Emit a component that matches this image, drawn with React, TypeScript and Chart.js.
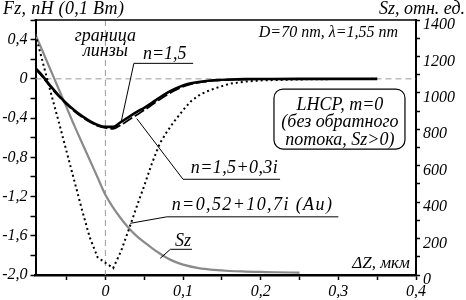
import React, { useEffect, useRef } from 'react';
import { Chart, registerables } from 'chart.js';
Chart.register(...registerables);

const FONT = '"Liberation Serif", "Times New Roman", serif';

// x positions (ΔZ, мкм) for the force curves
const xFz = [-0.09, -0.08, -0.07, -0.06, -0.05, -0.04, -0.03, -0.02, -0.01, 0, 0.01, 0.02, 0.03, 0.04, 0.05, 0.06, 0.07, 0.08, 0.09, 0.1, 0.11, 0.12, 0.13, 0.14, 0.16, 0.18, 0.2, 0.25, 0.3, 0.35];
// Fz, n = 1,5
const fzN15 = [0.11, 0.02, -0.08, -0.17, -0.25, -0.32, -0.38, -0.43, -0.47, -0.49, -0.49, -0.44, -0.39, -0.34, -0.295, -0.245, -0.19, -0.14, -0.1, -0.068, -0.046, -0.032, -0.022, -0.015, -0.007, -0.003, -0.002, 0, 0, 0];
// Fz, n = 1,5 + 0,3i
const fzN15i = [0.1, 0.01, -0.09, -0.18, -0.26, -0.33, -0.39, -0.44, -0.48, -0.5, -0.51, -0.47, -0.42, -0.37, -0.32, -0.265, -0.21, -0.16, -0.115, -0.08, -0.055, -0.038, -0.027, -0.019, -0.01, -0.005, -0.003, -0.001, 0, 0];
// Fz, n = 0,52 + 10,7i (Au)
const fzAu = [0.45, 0.15, -0.15, -0.44, -0.74, -1.04, -1.34, -1.62, -1.82, -1.875, -1.93, -1.76, -1.54, -1.31, -1.09, -0.86, -0.66, -0.53, -0.42, -0.32, -0.23, -0.17, -0.13, -0.1, -0.05, -0.028, -0.016, -0.006, -0.002, 0];
// Sz (right axis)
const xSz = [-0.09, -0.08, -0.07, -0.06, -0.05, -0.04, -0.03, -0.02, -0.01, 0, 0.01, 0.02, 0.03, 0.04, 0.05, 0.06, 0.07, 0.08, 0.09, 0.1, 0.12, 0.14, 0.16, 0.18, 0.2, 0.22, 0.25];
const sz = [1320, 1220, 1120, 1020, 920, 820, 725, 630, 535, 440, 370, 310, 258, 215, 180, 148, 118, 92, 72, 57, 38, 28, 22, 19, 17, 15, 13];

const xTicks = [-0.05, 0, 0.05, 0.1, 0.15, 0.2, 0.25, 0.3, 0.35, 0.4];
const yLeftTicks = [-2.0, -1.8, -1.6, -1.4, -1.2, -1.0, -0.8, -0.6, -0.4, -0.2, 0, 0.2, 0.4, 0.6];
const yRightTicks = [0, 100, 200, 300, 400, 500, 600, 700, 800, 900, 1000, 1100, 1200, 1300, 1400];

const comma = (v: number) => (v === 0 ? '0' : v.toFixed(1).replace('.', ','));

function txt(ctx: CanvasRenderingContext2D, s: string, px: number, py: number, size: number, align: CanvasTextAlign = 'left', spacing = 0) {
  ctx.font = `italic ${size}px ${FONT}`;
  ctx.textAlign = align;
  ctx.textBaseline = 'middle';
  ctx.fillStyle = '#000';
  (ctx as any).letterSpacing = `${spacing}px`;
  ctx.fillText(s, px, py);
  (ctx as any).letterSpacing = '0px';
}

const annot = {
  id: 'annot',
  beforeDatasetsDraw(chart: any) {
    const { ctx, chartArea: a, scales } = chart;
    const x = scales.x, y = scales.y;
    ctx.save();
    ctx.strokeStyle = '#9a9a9a';
    ctx.lineWidth = 1;
    ctx.setLineDash([6, 4]);
    ctx.beginPath();
    const y0 = y.getPixelForValue(0);
    const x0 = x.getPixelForValue(0);
    ctx.moveTo(a.left, y0); ctx.lineTo(a.right, y0);
    ctx.moveTo(x0, a.top); ctx.lineTo(x0, a.bottom);
    ctx.stroke();
    ctx.restore();
  },
  afterDraw(chart: any) {
    const { ctx, chartArea: a, scales } = chart;
    const x = scales.x, y = scales.y;
    const P = (xv: number, yv: number): [number, number] => [x.getPixelForValue(xv), y.getPixelForValue(yv)];
    ctx.save();
    // top frame
    ctx.strokeStyle = '#000';
    ctx.lineWidth = 1.5;
    ctx.beginPath();
    ctx.moveTo(a.left - 1, a.top); ctx.lineTo(a.right + 1, a.top);
    ctx.stroke();

    // titles
    txt(ctx, 'Fz, пН (0,1 Вт)', 3, 9, 18, 'left', 0.3);
    txt(ctx, 'Sz, отн. ед.', 465, 9, 18, 'right');

    const lead = (pts: [number, number][]) => {
      ctx.strokeStyle = '#000';
      ctx.lineWidth = 1;
      ctx.setLineDash([]);
      ctx.beginPath();
      pts.forEach((p, i) => {
        const [px, py] = P(p[0], p[1]);
        if (i === 0) ctx.moveTo(px, py); else ctx.lineTo(px, py);
      });
      ctx.stroke();
    };
    const T = (s: string, xv: number, yv: number, size: number, align: CanvasTextAlign = 'left', sp = 0) => {
      const [px, py] = P(xv, yv);
      txt(ctx, s, px, py, size, align, sp);
    };

    T('граница', 0, 0.436, 18, 'center');
    T('линзы', 0, 0.283, 18, 'center');

    lead([[0.02, -0.45], [0.0367, 0.158], [0.113, 0.158]]);
    T('n=1,5', 0.0484, 0.253, 18);

    lead([[0.0404, -0.405], [0.1, -1.024], [0.225, -1.024]]);
    T('n=1,5+0,3i', 0.11, -0.909, 18, 'left', 0.4);

    lead([[0.032, -1.473], [0.079, -1.407], [0.30, -1.407]]);
    T('n=0,52+10,7i (Au)', 0.0854, -1.287, 18, 'left', 1.4);

    lead([[0.0706, -1.83], [0.0837, -1.738], [0.1115, -1.738]]);
    T('Sz', 0.0896, -1.654, 18);

    T('D=70 nm, λ=1,55 nm', 0.3768, 0.467, 16, 'right');

    // box
    const [bl, bt] = P(0.2171, -0.104);
    const [br, bb] = P(0.3858, -0.716);
    ctx.strokeStyle = '#000';
    ctx.lineWidth = 1.2;
    ctx.beginPath();
    ctx.roundRect(bl, bt, br - bl, bb - bt, 9);
    ctx.fillStyle = '#fff';
    ctx.fill();
    ctx.stroke();
    T('LHCP, m=0', 0.302, -0.268, 18, 'center');
    T('(без обратного', 0.302, -0.446, 18, 'center');
    T('потока, Sz>0)', 0.302, -0.624, 18, 'center');

    T('ΔZ, мкм', 0.392, -1.888, 17, 'right');
    ctx.restore();
  },
};

export default function App() {
  const ref = useRef<HTMLCanvasElement>(null);
  useEffect(() => {
    if (!ref.current) return;
    const tickFont = { family: FONT, size: 16, style: 'italic' as const };
    const chart = new Chart(ref.current, {
      type: 'line',
      data: {
        datasets: [
          {
            label: 'n=1,5',
            data: xFz.map((v, i) => ({ x: v, y: fzN15[i] })),
            borderColor: '#000',
            borderWidth: 2.6,
            pointRadius: 0,
            cubicInterpolationMode: 'monotone',
            yAxisID: 'y',
          },
          {
            label: 'n=1,5+0,3i',
            data: xFz.map((v, i) => ({ x: v, y: fzN15i[i] })),
            borderColor: '#000',
            borderWidth: 1.8,
            borderDash: [11, 3],
            pointRadius: 0,
            cubicInterpolationMode: 'monotone',
            yAxisID: 'y',
          },
          {
            label: 'n=0,52+10,7i (Au)',
            data: xFz.map((v, i) => ({ x: v, y: fzAu[i] })),
            borderColor: '#000',
            borderWidth: 2,
            borderDash: [2, 3],
            pointRadius: 0,
            tension: 0,
            yAxisID: 'y',
          },
          {
            label: 'Sz',
            data: xSz.map((v, i) => ({ x: v, y: sz[i] })),
            borderColor: '#8a8a8a',
            borderWidth: 2.2,
            pointRadius: 0,
            cubicInterpolationMode: 'monotone',
            yAxisID: 'y2',
          },
        ],
      },
      options: {
        animation: false,
        responsive: false,
        events: [],
        layout: { padding: { top: 20, left: 0, right: 0, bottom: 0 } },
        plugins: { legend: { display: false }, tooltip: { enabled: false } },
        scales: {
          x: {
            type: 'linear',
            min: -0.09,
            max: 0.4,
            afterBuildTicks: (s: any) => { s.ticks = xTicks.map((v) => ({ value: v })); },
            afterFit: (s: any) => { s.height = 25; },
            border: { display: true, color: '#000', width: 2.5 },
            grid: { display: true, drawOnChartArea: false, drawTicks: true, tickLength: 5, tickColor: '#000', tickWidth: 1.5 },
            ticks: {
              autoSkip: false,
              maxRotation: 0,
              padding: 2,
              color: '#000',
              font: tickFont,
              callback: (v: any) => {
                const k = Math.round(Number(v) * 100);
                if (k % 10 !== 0) return '';
                return comma(k / 100);
              },
            },
          },
          y: {
            type: 'linear',
            position: 'left',
            min: -2.0,
            max: 0.6,
            afterBuildTicks: (s: any) => { s.ticks = yLeftTicks.map((v) => ({ value: v })); },
            afterFit: (s: any) => { s.width = 35.5; },
            border: { display: true, color: '#000', width: 2 },
            grid: { display: true, drawOnChartArea: false, drawTicks: true, tickLength: 5, tickColor: '#000', tickWidth: 1.5 },
            ticks: {
              autoSkip: false,
              padding: 3,
              color: '#000',
              font: tickFont,
              callback: (v: any) => {
                const k = Math.round(Number(v) * 10);
                if (k % 4 !== 0) return '';
                return comma(k / 10);
              },
            },
          },
          y2: {
            type: 'linear',
            position: 'right',
            min: 0,
            max: 1400,
            afterBuildTicks: (s: any) => { s.ticks = yRightTicks.map((v) => ({ value: v })); },
            afterFit: (s: any) => { s.width = 50; },
            border: { display: true, color: '#000', width: 2 },
            grid: { display: true, drawOnChartArea: false, drawTicks: true, tickLength: 4, tickColor: '#000', tickWidth: 1.5 },
            ticks: {
              autoSkip: false,
              padding: 3,
              labelOffset: 5,
              color: '#000',
              font: tickFont,
              callback: (v: any) => {
                const n = Math.round(Number(v));
                return n % 200 === 0 ? String(n) : '';
              },
            },
          },
        },
      } as any,
      plugins: [annot],
    });
    return () => chart.destroy();
  }, []);
  return (
    <div style={{ position: 'absolute', left: 0, top: 0, width: 466, height: 300, background: '#fff' }}>
      <canvas ref={ref} width={466} height={300} />
    </div>
  );
}
